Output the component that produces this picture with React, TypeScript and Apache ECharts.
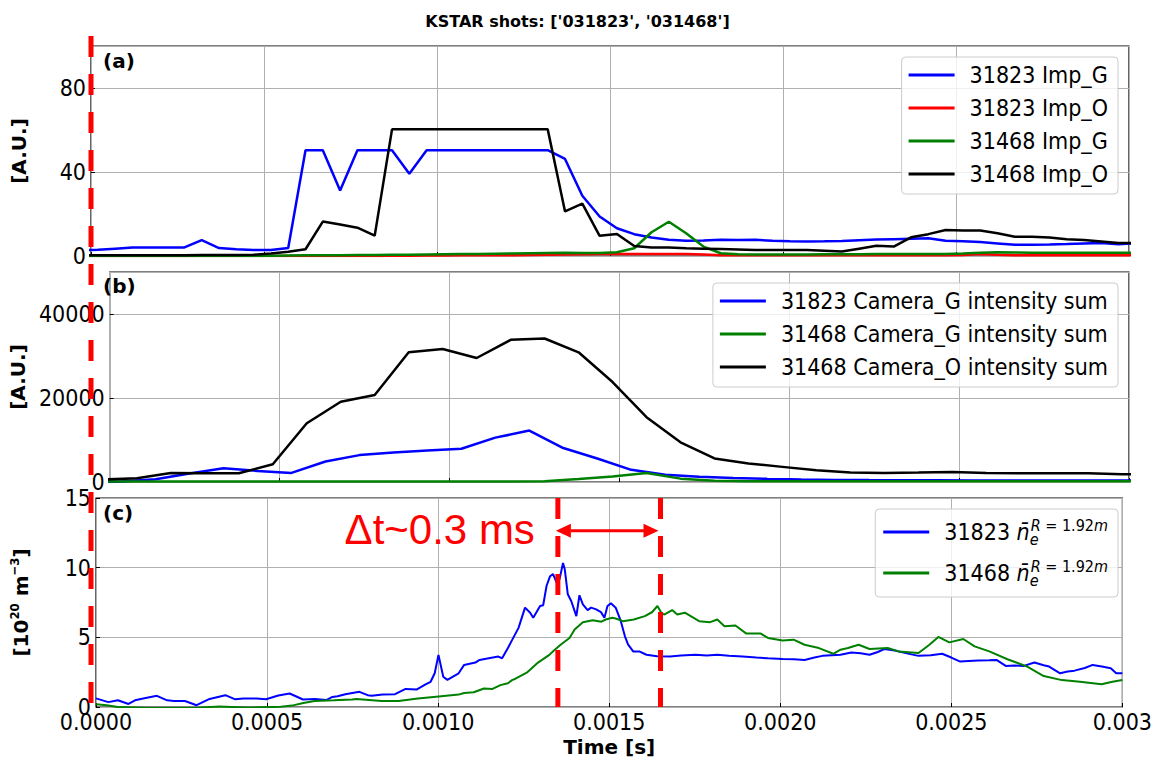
import React, { useEffect, useRef } from "react";
import * as echarts from "echarts";

// ---------- axes ----------
const X_MAX = 0.003;
const X_STEP = 0.0005;
const xTickLabels = ["0.0000", "0.0005", "0.0010", "0.0015", "0.0020", "0.0025", "0.003"];

// ---------- (a) impurity signals, one sample every 0.05 ms ----------
const impTime = [
  -0.00003, 0.00002, 0.00007, 0.00012, 0.00017, 0.00022, 0.00027, 0.00032, 0.00037, 0.00042,
  0.00047, 0.00052, 0.00057, 0.00062, 0.00067, 0.00072, 0.00077, 0.00082, 0.00087, 0.00092,
  0.00097, 0.00102, 0.00107, 0.00112, 0.00117, 0.00122, 0.00127, 0.00132, 0.00137, 0.00142,
  0.00147, 0.00152, 0.00157, 0.00162, 0.00167, 0.00172, 0.00177, 0.00182, 0.00187, 0.00192,
  0.00197, 0.00202, 0.00207, 0.00212, 0.00217, 0.00222, 0.00227, 0.00232, 0.00237, 0.00242,
  0.00247, 0.00252, 0.00257, 0.00262, 0.00267, 0.00272, 0.00277, 0.00282, 0.00287, 0.00292,
  0.00297, 0.00302,
];
const imp31823G = [
  2.8, 3.0, 3.5, 4.0, 4.0, 4.1, 4.1, 7.6, 3.8, 3.2, 2.9, 2.9, 3.8,
  50.4, 50.4, 31.2, 50.4, 50.4, 50.4, 39.2, 50.4, 50.4, 50.4, 50.4, 50.4, 50.4, 50.4, 50.4,
  46.2, 28.7, 18.8, 13.2, 10.4, 8.8, 7.7, 7.3, 7.4, 7.7, 7.6, 7.7, 7.3, 7.0, 6.9, 7.0,
  7.2, 7.5, 7.8, 8.0, 8.2, 8.4, 7.3, 7.0, 6.7, 6.0, 5.3, 5.4, 5.5, 5.7, 6.0, 6.2, 5.6, 6.1,
];
const imp31823O = [
  0, 0, 0, 0, 0, 0, 0, 0, 0, 0, 0, 0, 0, 0, 0, 0, 0, 0,
  0.1, 0.1, 0.2, 0.2, 0.3, 0.3, 0.4, 0.4,
  0.5, 0.6, 0.7, 0.8, 0.9, 1.0, 1.0, 1.0, 1.0, 0.9, 0.7,
  0.4, 0.3, 0.3, 0.3, 0.3, 0.3, 0.3, 0.3, 0.3, 0.3, 0.3, 0.3, 0.3, 0.3,
  0.5, 0.9, 0.6, 0.4, 0.4, 0.4, 0.4, 0.4, 0.4, 0.4, 0.4,
];
const imp31468G = [
  0, 0, 0, 0, 0, 0, 0, 0, 0, 0, 0,
  0.1, 0.2, 0.3, 0.4, 0.4, 0.5, 0.5, 0.6, 0.6, 0.7,
  0.8, 0.9, 1.0, 1.1, 1.2, 1.3, 1.4, 1.5, 1.4, 1.4,
  1.8, 3.7, 11.3, 16.3, 10.8, 4.5, 1.3, 0.8, 0.7, 0.7,
  0.7, 0.7, 0.8, 0.8, 0.8, 0.9, 0.9, 0.9, 1.0, 1.0,
  1.2, 1.5, 1.8, 1.7, 1.6, 1.6, 1.5, 1.5, 1.5, 1.5, 1.5,
];
const imp31468O = [
  0.3, 0.3, 0.3, 0.3, 0.4, 0.4, 0.4, 0.5, 0.5, 0.5, 0.6,
  1.2, 2.0, 3.2, 16.4, 15.0, 13.5, 9.7, 60.3,
  60.3, 60.3, 60.3, 60.3, 60.3, 60.3, 60.3, 60.3, 60.3,
  21.2, 24.9, 9.6, 10.5, 4.8, 4.1, 4.0, 3.7, 3.5, 3.3, 3.1, 2.9, 2.9, 2.9, 2.9, 2.5, 2.1,
  3.5, 4.9, 4.5, 8.9, 10.4, 12.4, 12.2, 12.1, 10.8, 9.2, 9.2, 8.8, 8.0, 7.6, 6.9, 6.2, 6.2,
];

// ---------- (b) camera intensity sums, one frame every 0.1 ms ----------
const cam31468Time = [
  -0.00002, 0.00008, 0.00018, 0.00028, 0.00038, 0.00048, 0.00058, 0.00068, 0.00078, 0.00088,
  0.00098, 0.00108, 0.00118, 0.00128, 0.00138, 0.00148, 0.00158, 0.00168, 0.00178, 0.00188,
  0.00198, 0.00208, 0.00218, 0.00228, 0.00238, 0.00248, 0.00258, 0.00268, 0.00278, 0.00288,
  0.00298, 0.00308,
];
const cam31468O = [
  580, 880, 2160, 2080, 2080, 4240, 14000, 19120, 20720, 30880,
  31680, 29520, 33840, 34160, 30880, 23800, 15440, 9440, 5600, 4400,
  3600, 2800, 2240, 2160, 2240, 2400, 2160, 2080, 2080, 2080,
  1840, 1840,
];
const cam31468G = [
  100, 100, 100, 100, 100, 100, 100, 100, 100, 100,
  100, 100, 100, 150, 700, 1300, 2160, 800, 300, 200,
  200, 200, 200, 200, 200, 200, 200, 200, 200, 200,
  200, 200,
];
const cam31823Time = [
  -0.000065, 0.000035, 0.000135, 0.000235, 0.000335, 0.000435, 0.000535, 0.000635, 0.000735, 0.000835,
  0.000935, 0.001035, 0.001135, 0.001235, 0.001335, 0.001435, 0.001535, 0.001635, 0.001735, 0.001835,
  0.001935, 0.002035, 0.002135, 0.002235, 0.002335, 0.002435, 0.002535, 0.002635, 0.002735, 0.002835,
  0.002935, 0.003035,
];
const cam31823G = [
  50, 100, 640, 2000, 3280, 2640, 2160, 4880, 6400, 7000,
  7500, 7920, 10560, 12240, 8080, 5600, 2900, 1750, 1250, 950,
  750, 600, 500, 450, 420, 400, 380, 370, 360, 350,
  350, 340,
];

// ---------- (c) line-averaged density at R = 1.92 m (time in units of 1e-4 s) ----------
const ne31823Time = [
  0.00, 0.36, 0.64, 0.95, 1.14, 1.45, 1.78, 2.08, 2.28, 2.60,
  2.94, 3.32, 3.78, 4.07, 4.31, 4.69, 4.97, 5.33, 5.66, 6.05,
  6.39, 6.73, 6.91, 7.06, 7.29, 7.70, 7.94, 8.06, 8.38, 8.74,
  9.05, 9.38, 9.62, 9.78, 9.90, 10.01, 10.15, 10.27, 10.60, 10.76,
  11.09, 11.21, 11.48, 11.76, 11.87, 12.04, 12.16, 12.35, 12.54, 12.69,
  12.78, 12.98, 13.07, 13.17, 13.27, 13.36, 13.46, 13.55, 13.65, 13.70,
  13.79, 13.89, 14.04, 14.13, 14.23, 14.37, 14.47, 14.62, 14.76, 14.86,
  14.95, 15.05, 15.19, 15.34, 15.46, 15.55, 15.70, 15.88, 16.09, 16.40,
  16.78, 17.10, 17.52, 17.85, 18.16, 18.50, 18.90, 19.30, 19.64, 20.07,
  20.40, 20.71, 21.00, 21.23, 21.50, 21.76, 22.08, 22.35, 22.61, 22.85,
  23.04, 23.35, 23.70, 24.04, 24.40, 24.73, 25.00, 25.26, 25.50, 25.79,
  26.10, 26.32, 26.59, 26.85, 27.12, 27.43, 27.70, 27.86, 28.18, 28.40,
  28.60, 28.90, 29.13, 29.40, 29.66, 29.82, 30.00,
];
const ne31823 = [
  0.62, 0.35, 0.48, 0.22, 0.48, 0.65, 0.80, 0.48, 0.43, 0.43,
  0.13, 0.58, 0.85, 0.55, 0.61, 0.61, 0.56, 0.82, 0.97, 0.54,
  0.58, 0.50, 0.72, 0.77, 0.92, 1.09, 0.85, 0.80, 0.89, 0.92,
  1.30, 1.26, 1.60, 1.81, 2.42, 3.74, 2.17, 1.95, 2.42, 3.02,
  3.19, 3.38, 3.50, 3.62, 3.50, 4.23, 4.80, 5.68, 7.13, 6.77,
  6.41, 7.25, 7.30, 8.70, 9.38, 9.54, 8.94, 9.18, 10.34, 9.91,
  8.09, 7.61, 6.52, 8.02, 7.37, 6.95, 7.13, 7.01, 6.81, 6.41,
  7.25, 7.44, 7.13, 6.16, 5.07, 4.50, 3.99, 3.99, 3.75, 3.65,
  3.62, 3.70, 3.75, 3.70, 3.75, 3.68, 3.62, 3.55, 3.50, 3.45,
  3.42, 3.38, 3.55, 3.67, 3.72, 3.75, 3.91, 3.85, 3.75, 3.95,
  4.16, 4.06, 3.85, 3.67, 3.72, 3.82, 3.55, 3.26, 3.30, 3.33,
  3.35, 3.38, 2.95, 2.98, 2.95, 3.19, 3.00, 2.90, 2.42, 2.55,
  2.61, 2.80, 3.02, 2.90, 2.78, 2.42, 2.42,
];
const ne31468Time = [
  0.00, 0.31, 0.64, 1.50, 3.00, 3.60, 4.50, 5.40, 5.73, 6.06,
  6.39, 6.95, 7.49, 7.61, 8.35, 8.84, 9.41, 10.09, 10.60, 10.76,
  11.04, 11.34, 11.59, 11.82, 12.04, 12.16, 12.26, 12.59, 12.92, 13.25,
  13.41, 13.58, 13.84, 13.99, 14.23, 14.52, 14.77, 14.90, 15.09, 15.19,
  15.40, 15.72, 16.04, 16.25, 16.41, 16.54, 16.62, 16.84, 16.99, 17.21,
  17.63, 17.95, 18.16, 18.37, 18.69, 19.01, 19.43, 19.64, 20.07, 20.39,
  20.71, 21.13, 21.55, 21.76, 21.98, 22.29, 22.61, 23.14, 23.46, 24.04,
  24.36, 24.62, 24.94, 25.35, 25.68, 26.11, 26.64, 27.22, 27.70, 28.23,
  28.76, 29.39, 29.71, 30.00,
];
const ne31468 = [
  0.19, 0.12, 0.00, -0.08, -0.05, 0.03, -0.05, 0.02, 0.10, 0.29,
  0.43, 0.48, 0.54, 0.58, 0.43, 0.43, 0.61, 0.78, 0.89, 1.01,
  1.06, 1.33, 1.30, 1.57, 1.70, 1.93, 2.03, 2.46, 3.19, 3.74,
  4.11, 4.47, 4.95, 5.56, 6.09, 6.23, 6.12, 6.28, 6.41, 6.35,
  6.16, 6.28, 6.52, 6.80, 7.25, 6.70, 6.64, 6.96, 6.64, 6.77,
  6.16, 6.09, 6.28, 5.80, 5.85, 5.27, 5.27, 4.96, 4.78, 4.83,
  4.47, 4.23, 3.82, 4.11, 4.23, 4.47, 4.16, 4.23, 3.99, 3.87,
  4.47, 5.03, 4.64, 4.88, 4.35, 3.99, 3.43, 2.90, 2.22, 1.93,
  1.81, 1.64, 1.81, 1.93,
];

// ---------- annotation: delay between the two density rises ----------
const shiftStart = 0.00135;
const shiftEnd = 0.00165;
const shiftLevel = 12.65;
const shiftText = "Δt~0.3 ms";

const REG = "'DejaVu Sans Condensed', 'DejaVu Sans', sans-serif";
const BOLD = "'DejaVu Sans', sans-serif";
const BLUE = "#0000ff";
const RED = "#ff0000";
const GREEN = "#008000";
const BLACK = "#000000";

const zip = (t: number[], v: number[], scale = 1) => t.map((x, i) => [x * scale, v[i]]);

const boldText = (size: number) => ({ fontFamily: BOLD, fontWeight: "bold" as const, fontSize: size, color: "#000" });

function lineSeries(name: string, color: string, axis: number, data: number[][], width: number) {
  return {
    type: "line",
    name,
    xAxisIndex: axis,
    yAxisIndex: axis,
    data,
    symbol: "none",
    showSymbol: false,
    clip: true,
    lineStyle: { color, width },
    itemStyle: { color },
  };
}

function legendBox(data: string[], top: number, extra: Record<string, unknown> = {}) {
  return {
    data,
    orient: "vertical",
    right: 37,
    top,
    icon: "rect",
    itemWidth: 46,
    itemHeight: 3,
    itemGap: 9,
    padding: [6, 10, 8, 7],
    backgroundColor: "rgba(255,255,255,0.8)",
    borderColor: "#cccccc",
    borderWidth: 1,
    borderRadius: 4,
    selectedMode: false,
    textStyle: { fontFamily: REG, fontSize: 23, color: "#000", lineHeight: 24, padding: [0, 0, 0, 10] },
    ...extra,
  };
}

function buildOption() {
  const grids = [46, 272, 498].map((top, i) => ({
    left: 91,
    right: 26,
    top,
    height: i === 2 ? 209 : 210,
    show: true,
    borderColor: "#000",
    borderWidth: 1.2,
    backgroundColor: "transparent",
  }));

  const xAxes = [0, 1, 2].map((i) => ({
    type: "value",
    gridIndex: i,
    min: 0,
    max: X_MAX,
    interval: X_STEP,
    axisLine: { show: false },
    axisTick: { show: true, inside: true, length: 4, lineStyle: { color: "#000" } },
    splitLine: { show: true, lineStyle: { color: "#b0b0b0", width: 1 } },
    axisLabel:
      i === 2
        ? {
            show: true,
            formatter: (v: number) => xTickLabels[Math.round(v / X_STEP)] ?? "",
            fontFamily: REG,
            fontSize: 23,
            color: "#000",
            margin: 3,
          }
        : { show: false },
    name: i === 2 ? "Time [s]" : "",
    nameLocation: "middle",
    nameGap: 30,
    nameTextStyle: boldText(20),
  }));

  const yCommon = {
    type: "value",
    nameLocation: "middle",
    nameRotate: 90,
    nameGap: 62,
    axisLine: { show: false },
    axisTick: { show: true, inside: true, length: 4, lineStyle: { color: "#000" } },
    splitLine: { show: true, lineStyle: { color: "#b0b0b0", width: 1 } },
  };
  const yLabel = (showMax: boolean) => ({
    fontFamily: REG,
    fontSize: 23,
    color: "#000",
    margin: 5,
    showMaxLabel: showMax,
    formatter: (v: number) => String(v),
  });
  const yAxes = [
    { ...yCommon, gridIndex: 0, min: 0, max: 100, interval: 40, name: "[A.U.]", nameTextStyle: boldText(20), axisLabel: yLabel(false) },
    { ...yCommon, gridIndex: 1, min: 0, max: 50000, interval: 20000, name: "[A.U.]", nameTextStyle: boldText(20), axisLabel: yLabel(false) },
    {
      ...yCommon,
      gridIndex: 2,
      min: 0,
      max: 15,
      interval: 5,
      name: "{b|[10}{s|20}{b| m}{s|−3}{b|]}",
      nameTextStyle: {
        ...boldText(20),
        rich: {
          b: { fontFamily: BOLD, fontWeight: "bold", fontSize: 20, lineHeight: 26, color: "#000" },
          s: { fontFamily: REG, fontSize: 13, lineHeight: 13, verticalAlign: "top", color: "#000" },
        },
      },
      axisLabel: yLabel(true),
    },
  ];

  const series = [
    lineSeries("31823 Imp_G", BLUE, 0, zip(impTime, imp31823G), 2.5),
    lineSeries("31823 Imp_O", RED, 0, zip(impTime, imp31823O), 2.5),
    lineSeries("31468 Imp_G", GREEN, 0, zip(impTime, imp31468G), 2.5),
    lineSeries("31468 Imp_O", BLACK, 0, zip(impTime, imp31468O), 2.5),
    lineSeries("31823 Camera_G intensity sum", BLUE, 1, zip(cam31823Time, cam31823G), 2.5),
    lineSeries("31468 Camera_G intensity sum", GREEN, 1, zip(cam31468Time, cam31468G), 2.5),
    lineSeries("31468 Camera_O intensity sum", BLACK, 1, zip(cam31468Time, cam31468O), 2.5),
    lineSeries("31823 ne", BLUE, 2, zip(ne31823Time, ne31823, 1e-4), 2),
    lineSeries("31468 ne", GREEN, 2, zip(ne31468Time, ne31468, 1e-4), 2),
  ];

  const neLegendRich = {
    n: { fontFamily: REG, fontStyle: "italic", fontSize: 23, lineHeight: 30, color: "#000" },
    e: { fontFamily: REG, fontStyle: "italic", fontSize: 16, lineHeight: 15, verticalAlign: "bottom", width: 1, color: "#000" },
    si: { fontFamily: REG, fontStyle: "italic", fontSize: 16, lineHeight: 15, verticalAlign: "top", color: "#000" },
    s: { fontFamily: REG, fontSize: 16, lineHeight: 15, verticalAlign: "top", color: "#000" },
  };

  return {
    animation: false,
    backgroundColor: "#ffffff",
    title: [
      { text: "KSTAR shots: ['031823', '031468']", left: "center", top: 13, padding: 0, textStyle: boldText(16) },
      { text: "(a)", left: 103, top: 51, padding: 0, textStyle: boldText(20) },
      { text: "(b)", left: 103, top: 276, padding: 0, textStyle: boldText(20) },
      { text: "(c)", left: 103, top: 503, padding: 0, textStyle: boldText(20) },
    ],
    legend: [
      legendBox(["31823 Imp_G", "31823 Imp_O", "31468 Imp_G", "31468 Imp_O"], 57),
      legendBox(["31823 Camera_G intensity sum", "31468 Camera_G intensity sum", "31468 Camera_O intensity sum"], 283),
      legendBox(["31823 ne", "31468 ne"], 509, {
        itemGap: 11,
        padding: [8, 10, 9, 8],
        formatter: (name: string) => `${name.split(" ")[0]} {n|n̄}{e|e}{si|R}{s| = 1.92}{si|m}`,
        textStyle: {
          fontFamily: REG,
          fontSize: 23,
          color: "#000",
          lineHeight: 30,
          padding: [0, 0, 0, 10],
          rich: neLegendRich,
        },
      }),
    ],
    grid: grids,
    xAxis: xAxes,
    yAxis: yAxes,
    series,
  };
}

export default function App() {
  const ref = useRef<HTMLDivElement>(null);

  useEffect(() => {
    const el = ref.current;
    if (!el) return;
    const chart = echarts.init(el, null, { renderer: "svg" });
    chart.setOption(buildOption());

    // Hand-drawn style markers placed through the axes' own scales
    const aTop = chart.convertToPixel({ gridIndex: 0 }, [0, 100]) as number[];
    const cBottom = chart.convertToPixel({ gridIndex: 2 }, [0, 0]) as number[];
    const cTop = chart.convertToPixel({ gridIndex: 2 }, [0, 15]) as number[];
    const p1 = chart.convertToPixel({ gridIndex: 2 }, [shiftStart, shiftLevel]) as number[];
    const p2 = chart.convertToPixel({ gridIndex: 2 }, [shiftEnd, shiftLevel]) as number[];
    const dash = { stroke: RED, lineWidth: 5, lineDash: [21, 17] };
    const head = 15;
    const half = 7;

    chart.setOption({
      graphic: [
        { type: "line", z: 100, silent: true, shape: { x1: aTop[0], y1: aTop[1] - 10, x2: aTop[0], y2: cBottom[1] }, style: dash },
        { type: "line", z: 100, silent: true, shape: { x1: p1[0], y1: cTop[1], x2: p1[0], y2: cBottom[1] }, style: dash },
        { type: "line", z: 100, silent: true, shape: { x1: p2[0], y1: cTop[1], x2: p2[0], y2: cBottom[1] }, style: dash },
        {
          type: "line",
          z: 100,
          silent: true,
          shape: { x1: p1[0] + head - 2, y1: p1[1], x2: p2[0] - head, y2: p2[1] },
          style: { stroke: RED, lineWidth: 3 },
        },
        {
          type: "polygon",
          z: 100,
          silent: true,
          shape: { points: [[p1[0] - 2, p1[1]], [p1[0] - 2 + head, p1[1] - half], [p1[0] - 2 + head, p1[1] + half]] },
          style: { fill: RED },
        },
        {
          type: "polygon",
          z: 100,
          silent: true,
          shape: { points: [[p2[0] - 2, p2[1]], [p2[0] - 2 - head, p2[1] - half], [p2[0] - 2 - head, p2[1] + half]] },
          style: { fill: RED },
        },
        {
          type: "text",
          z: 100,
          silent: true,
          x: p1[0] - 23,
          y: p1[1] - 1,
          style: {
            text: shiftText,
            fill: RED,
            fontSize: 42,
            fontFamily: "'Liberation Sans', Arial, sans-serif",
            align: "right",
            verticalAlign: "middle",
          },
        },
      ],
    });

    return () => chart.dispose();
  }, []);

  return <div ref={ref} style={{ position: "fixed", left: 0, top: 0, width: 1155, height: 759 }} />;
}
